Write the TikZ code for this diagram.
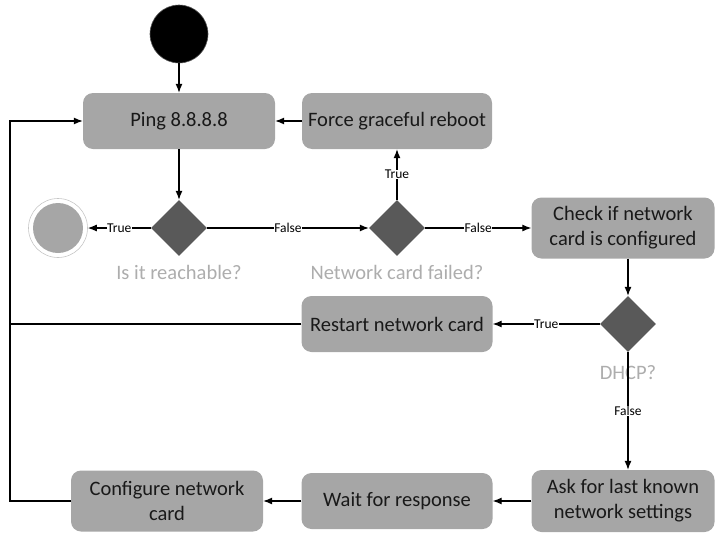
\documentclass[tikz,border=0pt]{standalone}
\usepackage{fontspec}
\setmainfont{Carlito}
\usepackage{xcolor}
\usetikzlibrary{shapes.geometric,arrows.meta}

\definecolor{boxgray}{HTML}{A6A6A6}
\definecolor{diagray}{HTML}{595959}
\definecolor{lblgray}{HTML}{ADADAD}

\tikzset{
  action/.style={draw=none, fill=boxgray, rounded corners=10pt, inner sep=0pt,
    align=center, font=\fontsize{20.5}{25}\selectfont, text=black!90},
  choice/.style={diamond, fill=diagray, draw=none, minimum size=56pt, inner sep=0pt},
  guard/.style={fill=white, inner sep=0.5pt, font=\fontsize{13.5}{15}\selectfont},
  question/.style={text=lblgray, font=\fontsize{20.5}{24}\selectfont},
  flow/.style={-{Latex[length=9pt,width=7pt]}, line width=1.1pt}
}

\begin{document}
\begin{tikzpicture}[x=1pt, y={(0pt,-1pt)}]
          \useasboundingbox (0,0) rectangle (715,533);

          % start and end
          \node[circle, fill=black, draw=diagray, line width=0.6pt, minimum size=58pt] (start) at (179,34) {};
          \node[circle, draw=lblgray!70, line width=0.6pt, minimum size=59pt] (stopring) at (58,228) {};
          \node[circle, fill=boxgray, minimum size=50pt] (stop) at (58,228) {};

          % actions
          \node[action, minimum width=192pt, minimum height=56pt] (ping) at (179,121) {Ping 8.8.8.8};
          \node[action, minimum width=190pt, minimum height=56pt] (reboot) at (397,121) {Force graceful reboot};
          \node[action, minimum width=183pt, minimum height=61pt] (check) at (623,228) {Check if network\\card is configured};
          \node[action, minimum width=191pt, minimum height=56pt] (restart) at (397,324) {Restart network card};
          \node[action, minimum width=183pt, minimum height=62pt] (ask) at (623,501) {Ask for last known\\network settings};
          \node[action, minimum width=191pt, minimum height=56pt] (wait) at (397,501) {Wait for response};
          \node[action, minimum width=192pt, minimum height=61pt] (config) at (167,501) {Configure network\\card};

          % decisions
          \node[choice] (reach) at (179,228) {};
          \node[choice] (failed) at (397,228) {};
          \node[choice] (dhcp) at (628,324) {};
          \node[question] (reachq) at (179,272) {Is it reachable?};
          \node[question] (failedq) at (397,272) {Network card failed?};
          \node[question] (dhcpq) at (628,373) {DHCP?};

          \coordinate (loopup) at (10,121);
          \coordinate (loopmid) at (10,324);
          \coordinate (loopdown) at (10,501);

          % flows
          \draw[flow] (start) -- (ping);
          \draw[flow] (ping) -- (reach);
          \draw[flow] (reach) -- node[guard]{True} (stopring);
          \draw[flow] (reach) -- node[guard]{False} (failed);
          \draw[flow] (failed) -- node[guard]{True} (reboot);
          \draw[flow] (failed) -- node[guard]{False} (check);
          \draw[flow] (reboot) -- (ping);
          \draw[flow] (dhcp.north |- check.south) -- (dhcp);
          \draw[flow] (dhcp) -- node[guard]{True} (restart);
          \draw[flow] (dhcp) -- node[guard]{False} (dhcp.south |- ask.north);
          \draw[flow] (ask) -- (wait);
          \draw[flow] (wait) -- (config);
          \draw[line width=1.1pt] (restart) -- (loopmid);
          \draw[flow] (config) -- (loopdown) -- (loopup) -- (ping);

          \end{tikzpicture}
\end{document}
